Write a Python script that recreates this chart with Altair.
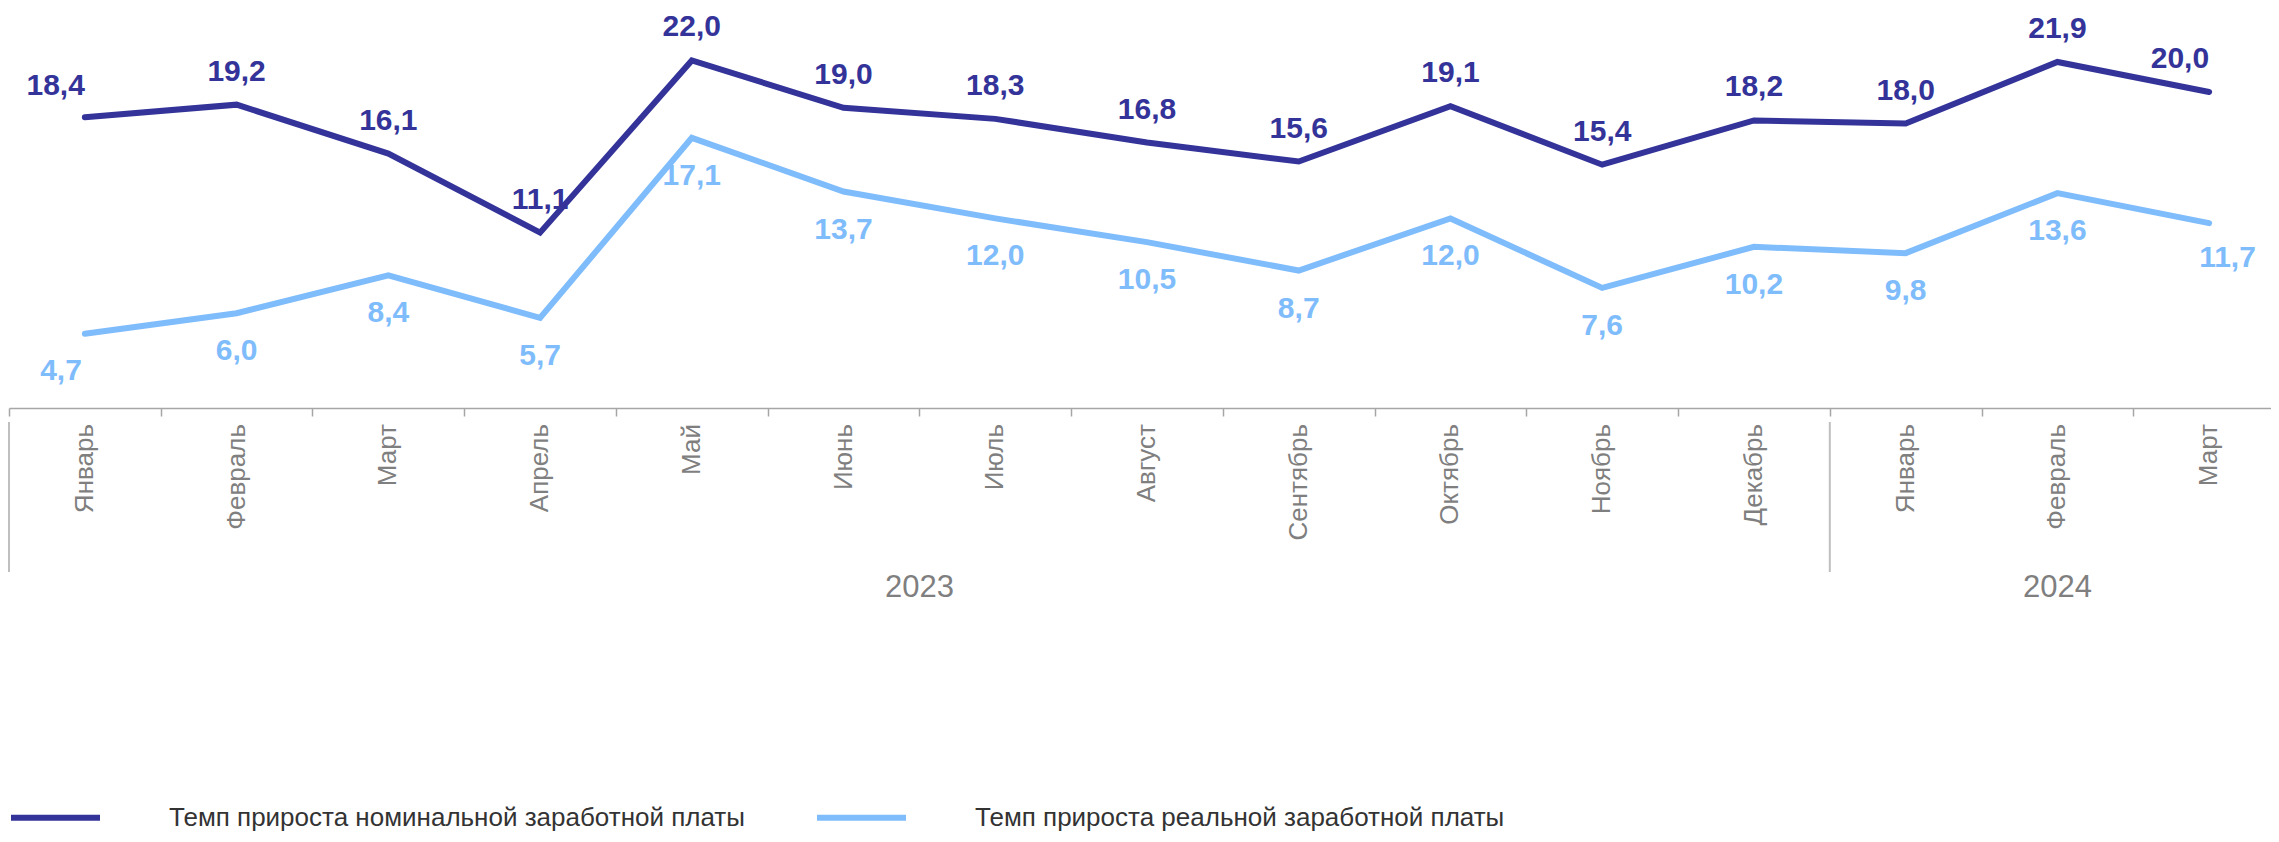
import altair as alt
import pandas as pd

months = ["Январь", "Февраль", "Март", "Апрель", "Май", "Июнь", "Июль", "Август",
          "Сентябрь", "Октябрь", "Ноябрь", "Декабрь", "Январь", "Февраль", "Март"]
nominal = [18.4, 19.2, 16.1, 11.1, 22.0, 19.0, 18.3, 16.8, 15.6, 19.1, 15.4, 18.2, 18.0, 21.9, 20.0]
real = [4.7, 6.0, 8.4, 5.7, 17.1, 13.7, 12.0, 10.5, 8.7, 12.0, 7.6, 10.2, 9.8, 13.6, 11.7]
years = ["2023", "2024"]
year_first = [0, 12]
year_len = [12, 3]
series = ["Темп прироста номинальной заработной платы", "Темп прироста реальной заработной платы"]
colors = ["#333399", "#7fbcfc"]

n = len(months)
rows = []
for i, m in enumerate(months):
    for s, v in zip(series, (nominal[i], real[i])):
        rows.append(dict(pos=i + 0.5, idx=i, month=m, series=s, value=v,
                         label=f"{v:.1f}".replace(".", ",")))
df = pd.DataFrame(rows)
months_df = pd.DataFrame({"pos": [i + 0.5 for i in range(n)], "month": months})
years_df = pd.DataFrame({"year": years, "start": year_first,
                         "mid": [s + l / 2 for s, l in zip(year_first, year_len)]})

W, H = 2262, 395
FONT = "Liberation Sans"
xscale = alt.Scale(domain=[0, n], range=[0, 2276], nice=False, zero=False)
yscale = alt.Scale(domain=[0, 25], nice=False)

base = alt.Chart(df)

lines = base.mark_line(strokeWidth=6, strokeCap="round", strokeJoin="miter").encode(
    x=alt.X("pos:Q", scale=xscale,
            axis=alt.Axis(values=list(range(n + 1)), labels=False, tickSize=8,
                          tickColor="#a6a6a6", tickWidth=1.5, domainColor="#a6a6a6",
                          domainWidth=1.5, grid=False, title=None)),
    y=alt.Y("value:Q", scale=yscale, axis=None),
    color=alt.Color("series:N", scale=alt.Scale(domain=series, range=colors),
                    legend=alt.Legend(title=None, orient="none", legendX=-1, legendY=757,
                                      direction="horizontal", symbolType="stroke",
                                      symbolSize=7921, symbolStrokeWidth=6,
                                      labelOffset=66, columnPadding=60,
                                      labelFontSize=26, labelFont=FONT,
                                      labelColor="#333333", padding=0, labelLimit=0)),
    detail="series:N",
)


def labels(sname, color, dy, flt, align="center", dx=0):
    return base.transform_filter(
        (alt.datum.series == sname) & flt
    ).mark_text(fontSize=30, fontWeight="bold", font=FONT, color=color, dy=dy,
                align=align, dx=dx, baseline="middle").encode(
        x=alt.X("pos:Q", scale=xscale), y=alt.Y("value:Q", scale=yscale), text="label:N")


mid = (alt.datum.idx > 0) & (alt.datum.idx < n - 1)
first = alt.datum.idx == 0
last = alt.datum.idx == n - 1

t1 = labels(series[0], colors[0], -33, mid)
t2 = labels(series[0], colors[0], -31, first, align="right", dx=0)
t3 = labels(series[0], colors[0], -33, last, align="right", dx=0)
t4 = labels(series[1], colors[1], 38, mid)
t5 = labels(series[1], colors[1], 37, first, align="right", dx=-3)
t6 = labels(series[1], colors[1], 35, last, align="left", dx=-10)

month_text = alt.Chart(months_df).mark_text(
    angle=270, align="right", baseline="middle", fontSize=26, font=FONT, color="#7f7f7f"
).encode(x=alt.X("pos:Q", scale=xscale), y=alt.value(H + 16), text="month:N")

year_text = alt.Chart(years_df).mark_text(
    fontSize=31, font=FONT, color="#7f7f7f", baseline="middle"
).encode(x=alt.X("mid:Q", scale=xscale), y=alt.value(575), text="year:N")

seps = alt.Chart(years_df).mark_rule(color="#bfbfbf", strokeWidth=2).encode(
    x=alt.X("start:Q", scale=xscale), y=alt.value(409), y2=alt.value(559))

chart = alt.layer(lines, t1, t2, t3, t4, t5, t6, month_text, year_text, seps).properties(
    width=W, height=H,
    autosize=alt.AutoSizeParams(type="none"),
    padding={"left": 1, "top": 5, "right": 0, "bottom": 426},
).configure(font=FONT).configure_view(stroke=None)

chart.save("out.html", embed_options={"renderer": "svg", "actions": False})
